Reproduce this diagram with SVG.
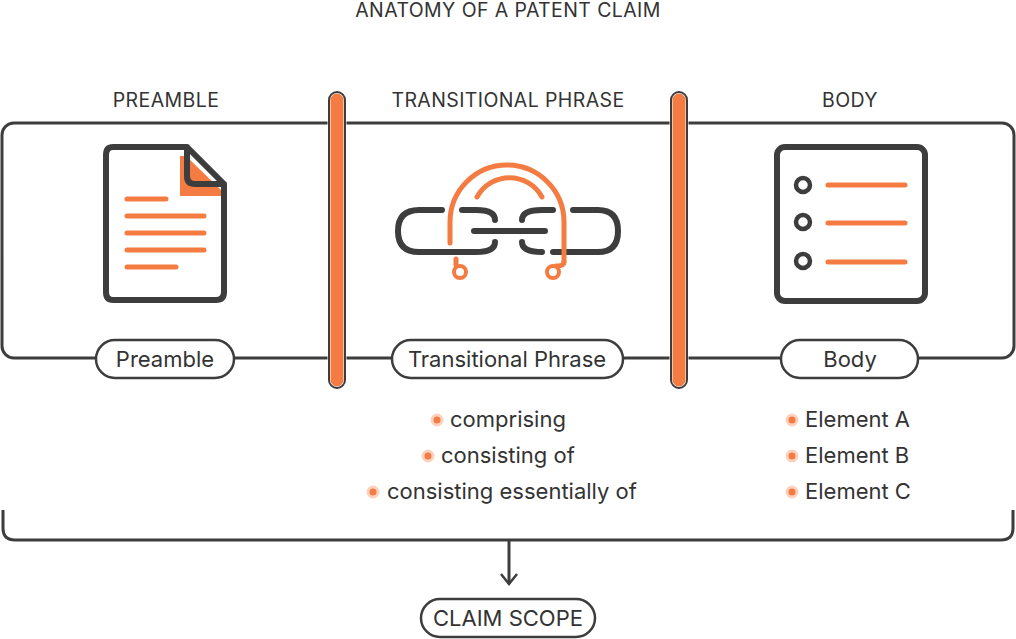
<svg xmlns="http://www.w3.org/2000/svg" width="1016" height="639" viewBox="0 0 1016 639">
<defs><style>
.t{font-family:Inter,"Noto Sans","Liberation Sans",sans-serif;fill:#333}
.h{font-size:19.5px;text-anchor:middle;letter-spacing:0.4px}
.p{font-size:22px;text-anchor:middle}
.l{font-size:22px}
.dk{fill:none;stroke:#3d3d3d;stroke-width:3}
.ic{fill:none;stroke:#3d3d3d;stroke-width:6;stroke-linecap:round;stroke-linejoin:round}
.or{fill:none;stroke:#f47c42;stroke-width:5;stroke-linecap:round}
.pill{fill:#fff;stroke:#3d3d3d;stroke-width:2.5}
.dot{fill:#f47c42;stroke:#fbd2bd;stroke-width:3}
</style>
<marker id="ar" viewBox="0 0 20 20" refX="18" refY="10" markerWidth="20" markerHeight="20" markerUnits="userSpaceOnUse" orient="auto"><path d="M8 2 L18 10 L8 18" fill="none" stroke="#3d3d3d" stroke-width="2.5"/></marker>
</defs>
<rect width="1016" height="639" fill="#fff"/>
<text class="t h" x="508" y="17">ANATOMY OF A PATENT CLAIM</text>
<g id="connectors">
<rect class="dk" x="2" y="123" width="1012" height="235" rx="12"/>
<path class="dk" d="M3 510 V528 Q3 540 15 540 H1001 Q1013 540 1013 528 V510"/>
<path class="dk" d="M509 540 V584" marker-end="url(#ar)"/>
</g>
<g id="divider1"><rect x="329" y="92" width="16" height="296" rx="8" fill="#f47c42" stroke="#fff" stroke-width="3"/><rect x="329" y="92" width="16" height="296" rx="8" fill="none" stroke="#3d3d3d" stroke-width="2"/></g>
<g id="divider2"><rect x="671" y="92" width="16" height="296" rx="8" fill="#f47c42" stroke="#fff" stroke-width="3"/><rect x="671" y="92" width="16" height="296" rx="8" fill="none" stroke="#3d3d3d" stroke-width="2"/></g>
<g id="preamble">
<text class="t h" x="166" y="107">PREAMBLE</text>
<path d="M180 150 H186 L221 184 V190 H180Z" fill="#f47c42" transform="translate(0,6)"/>
<path class="ic" d="M113 147 H187 L224 184 V292 Q224 300 216 300 H113 Q106 300 106 292 V155 Q106 147 113 147Z M187 147 V176 Q187 184 195 184 H224"/>
<path class="or" stroke-width="4" d="M127 199 H166 M127 216 H204 M127 233 H204 M127 250 H204 M127 267 H176"/>
<rect class="pill" x="96" y="340" width="138" height="38" rx="19"/>
<text class="t p" x="165" y="367">Preamble</text>
</g>
<g id="transitional">
<text class="t h" x="508" y="107">TRANSITIONAL PHRASE</text>
<path class="ic" d="M442 210 H419 Q398 210 398 231 Q398 252 419 252 H476 Q495 252 495 242 M495 220 Q495 210 476 210 H462"/>
<path class="ic" d="M474 231 H545"/>
<path class="ic" d="M573 210 H598 Q618 210 618 231 Q618 252 598 252 H553 M522 242 Q522 252 542 252 M522 220 Q522 210 542 210 H553"/>
<path class="or" d="M450 243 V222 A57 57 0 0 1 564 222 V262 M477 197 A37 37 0 0 1 542 197"/>
<path class="or" d="M456 259 V265 M564 262 Q564 266 556 266"/>
<circle cx="460" cy="272" r="6" fill="#fff" stroke="#f47c42" stroke-width="4"/>
<circle cx="553" cy="272" r="6" fill="#fff" stroke="#f47c42" stroke-width="4"/>
<rect class="pill" x="392" y="340" width="231" height="38" rx="19"/>
<text class="t p" x="507" y="367">Transitional Phrase</text>
<circle class="dot" cx="437" cy="420" r="5"/><text class="t l" x="450" y="427">comprising</text>
<circle class="dot" cx="428" cy="456" r="5"/><text class="t l" x="441" y="463">consisting of</text>
<circle class="dot" cx="373" cy="492" r="5"/><text class="t l" x="387" y="499">consisting essentially of</text>
</g>
<g id="body">
<text class="t h" x="850" y="107">BODY</text>
<rect class="ic" x="777" y="147" width="148" height="154" rx="8"/>
<circle cx="803" cy="185" r="7" fill="none" stroke="#3d3d3d" stroke-width="4.5"/>
<circle cx="803" cy="222" r="7" fill="none" stroke="#3d3d3d" stroke-width="4.5"/>
<circle cx="803" cy="261" r="7" fill="none" stroke="#3d3d3d" stroke-width="4.5"/>
<path class="or" d="M828 185 H905 M828 223 H905 M828 262 H905"/>
<rect class="pill" x="781" y="340" width="137" height="38" rx="19"/>
<text class="t p" x="850" y="367">Body</text>
<circle class="dot" cx="792" cy="420" r="5"/><text class="t l" x="805" y="427">Element A</text>
<circle class="dot" cx="792" cy="456" r="5"/><text class="t l" x="805" y="463">Element B</text>
<circle class="dot" cx="792" cy="492" r="5"/><text class="t l" x="805" y="499">Element C</text>
</g>
<g id="scope">
<rect class="pill" x="421" y="599" width="174" height="38" rx="19"/>
<text class="t p" x="508" y="626">CLAIM SCOPE</text>
</g>
</svg>
